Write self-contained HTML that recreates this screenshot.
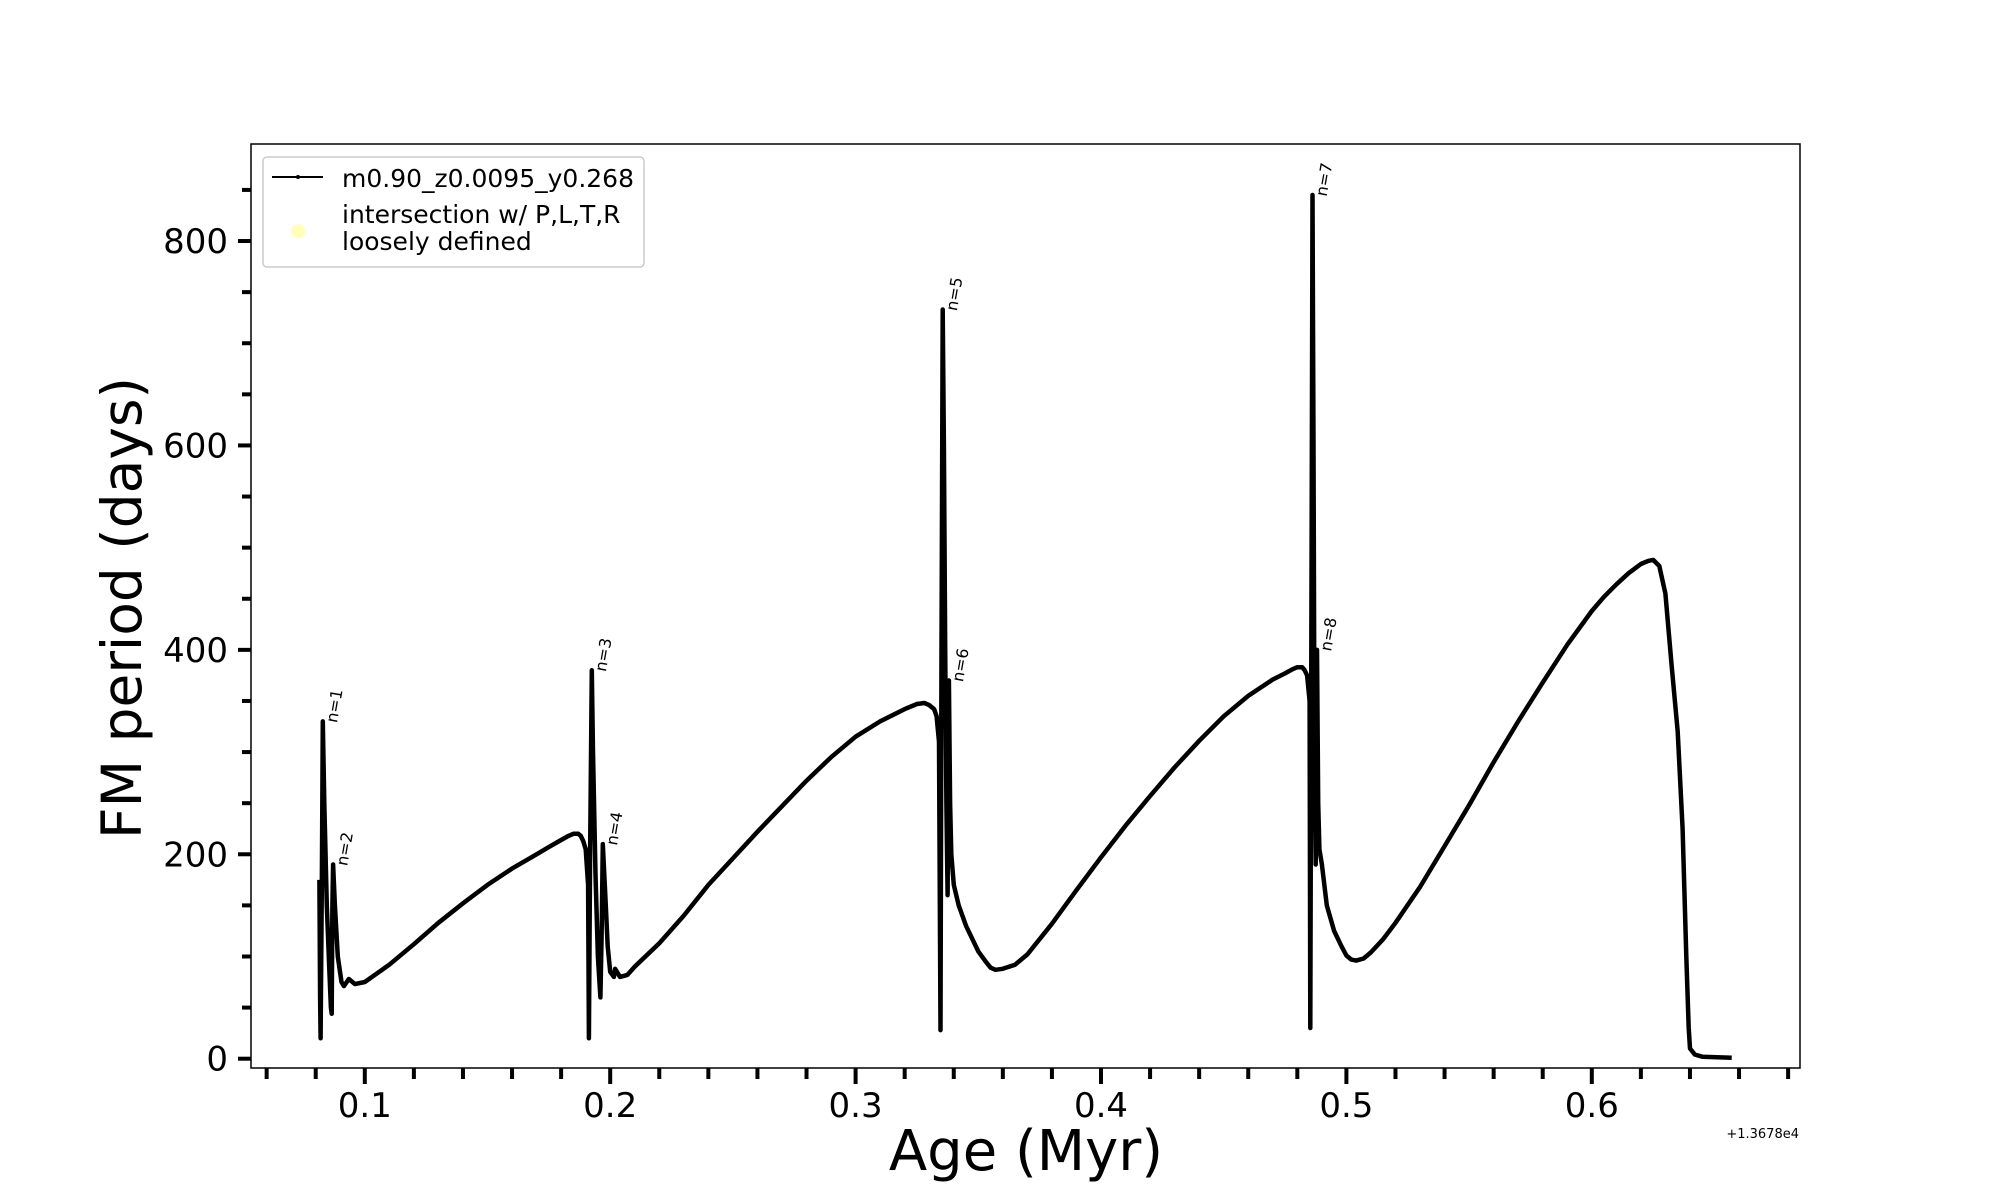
<!DOCTYPE html>
<html><head><meta charset="utf-8"><style>
html,body{margin:0;padding:0;background:#fff;width:2000px;height:1200px;overflow:hidden}
svg text{font-family:"DejaVu Sans","Liberation Sans",sans-serif}
</style></head><body>
<svg id="chart" width="2000" height="1200" viewBox="0 0 2000 1200" xmlns="http://www.w3.org/2000/svg">
<g id="marks"></g>
<rect x="251" y="144" width="1549" height="924" fill="none" stroke="#000" stroke-width="1.5"/>
<g id="axes"></g>
<text x="1026" y="1170" font-size="56" text-anchor="middle">Age (Myr)</text>
<text transform="translate(141,608) rotate(-90)" font-size="55" text-anchor="middle">FM period (days)</text>
<text x="1799" y="1138" font-size="13" text-anchor="end">+1.3678e4</text>
<g>
<rect x="263" y="157" width="381" height="110" rx="4" fill="#fff" fill-opacity="0.8" stroke="#ccc" stroke-width="1.5"/>
<line x1="272" y1="177" x2="323" y2="177" stroke="#000" stroke-width="2"/>
<circle cx="298" cy="177" r="2" fill="#000"/>
<text x="342" y="187" font-size="25">m0.90_z0.0095_y0.268</text>
<circle cx="298" cy="231" r="7" fill="#ffffb3" opacity="0.9"/>
<text x="342" y="223" font-size="25">intersection w/ P,L,T,R</text>
<text x="342" y="250" font-size="25">loosely defined</text>
</g>
</svg>
<script>
const ages=[
0.0815,0.0818,0.0820,0.0825,0.0829,0.0835,0.0845,0.0855,0.0862,0.0865,
0.0868,0.0871,0.0878,0.089,0.0905,0.0915,0.0935,0.096,0.1,
0.11,0.12,0.13,0.14,0.15,0.16,0.17,0.175,0.18,0.183,
0.185,0.187,0.188,0.189,0.190,0.191,0.1913,0.1918,0.1925,0.193,
0.194,0.195,0.196,0.1965,0.197,0.198,0.199,0.200,0.2015,0.202,
0.204,0.207,0.21,0.22,0.23,0.24,0.25,0.26,0.27,0.28,
0.29,0.30,0.31,0.32,0.325,0.328,0.33,0.332,0.333,0.334,
0.3346,0.3350,0.3355,0.336,0.3365,0.337,0.3375,0.338,0.3385,0.339,
0.340,0.342,0.345,0.348,0.35,0.353,0.355,0.357,0.36,0.365,
0.37,0.38,0.39,0.40,0.41,0.42,0.43,0.44,0.45,0.46,
0.47,0.475,0.478,0.48,0.482,0.483,0.484,0.485,0.4853,0.4858,
0.4862,0.4866,0.487,0.4875,0.488,0.4885,0.489,0.490,0.492,0.495,
0.498,0.50,0.502,0.504,0.507,0.51,0.515,0.52,0.53,0.54,
0.55,0.56,0.57,0.58,0.59,0.60,0.605,0.61,0.615,0.62,
0.623,0.625,0.6275,0.63,0.6325,0.635,0.637,0.6385,0.6395,0.640,
0.642,0.645,0.657];
const periods=[
175,60,20,180,330,250,150,90,50,44,
150,190,150,100,75,71,78,73,75,
92,112,133,152,170,186,200,207,214,218,
220,220,218,213,205,170,20,200,380,300,
180,100,60,120,210,160,110,85,80,88,
80,82,90,113,140,170,196,222,247,272,
295,315,330,342,347,348,346,342,335,310,
28,400,733,600,400,250,160,370,250,200,
170,150,130,115,105,95,89,87,88,92,
102,132,165,197,228,257,285,311,335,355,
371,377,381,383,383,380,375,350,30,500,
845,600,300,190,400,250,205,190,150,125,
110,101,97,96,98,104,117,133,168,208,
248,290,330,368,405,438,452,464,475,484,
487,488,482,455,385,320,225,100,30,10,
4,2,1];
const labelNames=["n=1","n=2","n=3","n=4","n=5","n=6","n=7","n=8"];
const labelAges=[0.0829,0.0871,0.1925,0.197,0.3355,0.338,0.4862,0.488];
const labelPeriods=[330,190,380,210,733,370,845,400];
const yTicks=[0,200,400,600,800];
const xTicks=[0.1,0.2,0.3,0.4,0.5,0.6];
const xTickLabels=["0.1","0.2","0.3","0.4","0.5","0.6"];
const NS="http://www.w3.org/2000/svg";
function x(a){return 364.8+(a-0.1)*2454;}
function y(p){return 1058.7-p*1.0221;}
const marks=document.getElementById('marks');
let d="";
ages.forEach((a,i)=>{d+=(i?"L":"M")+x(a).toFixed(1)+","+y(periods[i]).toFixed(1);});
const path=document.createElementNS(NS,'path');
path.setAttribute('d',d);path.setAttribute('fill','none');path.setAttribute('stroke','#000');path.setAttribute('stroke-width','4.5');path.setAttribute('stroke-linejoin','round');


marks.appendChild(path);
labelNames.forEach((n,i)=>{
 const t=document.createElementNS(NS,'text');
 const tx=x(labelAges[i])+14, ty=y(labelPeriods[i])+2;
 t.setAttribute('transform','translate('+tx+','+ty+') rotate(-80)');
 t.setAttribute('font-size','16');t.textContent=n;
 
 
 marks.appendChild(t);
});
const axes=document.getElementById('axes');
function ln(x1,y1,x2,y2,w){const l=document.createElementNS(NS,'line');l.setAttribute('x1',x1);l.setAttribute('y1',y1);l.setAttribute('x2',x2);l.setAttribute('y2',y2);l.setAttribute('stroke','#000');l.setAttribute('stroke-width',w);


axes.appendChild(l);}
for(let p=0;p<=850;p+=50){const major=p%200===0;ln(251,y(p),major?238:242,y(p),4);}
yTicks.forEach(p=>{const t=document.createElementNS(NS,'text');t.setAttribute('x',228);t.setAttribute('y',y(p)+12);t.setAttribute('font-size','34');t.setAttribute('text-anchor','end');t.textContent=String(p);


axes.appendChild(t);});
for(let k=3;k<=34;k++){const a=k*0.02;const major=(k%5===0);ln(x(a),1068,x(a),major?1084:1079,4);}
xTicks.forEach((a,i)=>{const t=document.createElementNS(NS,'text');t.setAttribute('x',x(a));t.setAttribute('y',1117);t.setAttribute('font-size','34');t.setAttribute('text-anchor','middle');t.textContent=xTickLabels[i];


axes.appendChild(t);});
</script>
</body></html>
